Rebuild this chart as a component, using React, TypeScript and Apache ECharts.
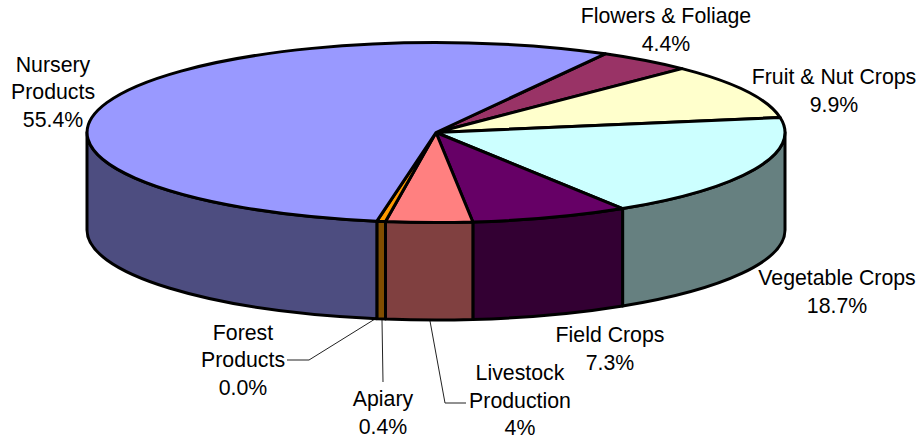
import React, { useEffect, useRef } from "react";
import * as echarts from "echarts";

const sliceNames = ["Flowers & Foliage", "Fruit & Nut Crops", "Vegetable Crops", "Field Crops", "Livestock Production", "Apiary", "Forest Products", "Nursery Products"];
const sliceValues = [4.4, 9.9, 18.7, 7.3, 4, 0.4, 0.0, 55.4];
const valueLabels = ["4.4%", "9.9%", "18.7%", "7.3%", "4%", "0.4%", "0.0%", "55.4%"];
const labelLines = [
  ["Flowers & Foliage"],
  ["Fruit & Nut Crops"],
  ["Vegetable Crops"],
  ["Field Crops"],
  ["Livestock", "Production"],
  ["Apiary"],
  ["Forest", "Products"],
  ["Nursery", "Products"],
];

const topColors = ["#993366", "#FFFFCC", "#CCFFFF", "#660066", "#FF8080", "#FF9900", "#FF9900", "#9999FF"];
const sideColors = ["#4D1A33", "#808066", "#668080", "#330033", "#804040", "#804D00", "#804D00", "#4D4D80"];

const labelCenters: [number, number][] = [
  [666, 30], [834, 91], [837, 292], [610, 349], [520, 400.8], [383, 413], [243, 360], [53, 92],
];
const leaders: [number, number][][] = [
  [[375, 319], [309, 360], [287, 360]],
  [[382, 320], [383, 382]],
  [[430, 321], [445, 403], [466, 403]],
];

const CX = 436, CY = 132.5, RX = 349, RY = 90, DEPTH = 97.5, START = -61;
const LINE_PITCH = 27.5;

const total = sliceValues.reduce((a, b) => a + b, 0);
const spans: [number, number][] = [];
{
  let cur = START;
  for (const v of sliceValues) {
    const next = cur + (v / total) * 360;
    spans.push([cur, next]);
    cur = next;
  }
}
const rad = (d: number) => (d * Math.PI) / 180;
const pt = (t: number, dy = 0) => `${(CX + RX * Math.cos(rad(t))).toFixed(2)} ${(CY + dy + RY * Math.sin(rad(t))).toFixed(2)}`;

function topPath(a: number, b: number) {
  const large = b - a > 180 ? 1 : 0;
  return `M${CX} ${CY}L${pt(a)}A${RX} ${RY} 0 ${large} 1 ${pt(b)}Z`;
}
function wallPath(a0: number, b0: number) {
  const a = Math.max(a0, 0), b = Math.min(b0, 180);
  if (b <= a) return "";
  return `M${pt(a)}A${RX} ${RY} 0 0 1 ${pt(b)}L${pt(b, DEPTH)}A${RX} ${RY} 0 0 0 ${pt(a, DEPTH)}Z`;
}

export default function App() {
  const ref = useRef<HTMLDivElement>(null);
  useEffect(() => {
    const chart = echarts.init(ref.current!, undefined, { renderer: "svg" });
    const font = '21.3px "Liberation Sans", Arial, sans-serif';
    const line = { stroke: "#000", lineWidth: 3, lineJoin: "round" };
    chart.setOption({
      animation: false,
      backgroundColor: "#fff",
      series: [
        {
          type: "custom",
          name: "sides",
          coordinateSystem: "none",
          silent: true,
          data: sliceValues.map((value, i) => ({ name: sliceNames[i], value })),
          renderItem: (params: any) => {
            const [a, b] = spans[params.dataIndex];
            const d = wallPath(a, b);
            if (!d) return { type: "group", children: [] };
            return { type: "path", shape: { pathData: d }, style: { fill: sideColors[params.dataIndex], ...line } };
          },
        },
        {
          type: "custom",
          name: "tops",
          coordinateSystem: "none",
          silent: true,
          data: sliceValues.map((value, i) => ({ name: sliceNames[i], value })),
          renderItem: (params: any) => {
            const [a, b] = spans[params.dataIndex];
            return { type: "path", shape: { pathData: topPath(a, b) }, style: { fill: topColors[params.dataIndex], ...line } };
          },
        },
      ],
      graphic: [
        ...leaders.map((points) => ({
          type: "polyline",
          shape: { points },
          style: { stroke: "#222", lineWidth: 1, fill: "none" },
        })),
        ...labelLines.flatMap((lines, i) => {
          const rows = [...lines, valueLabels[i]];
          return rows.map((text, r) => ({
            type: "text",
            x: labelCenters[i][0],
            y: labelCenters[i][1] + (r - (rows.length - 1) / 2) * LINE_PITCH,
            style: { text, font, fill: "#000", align: "center", verticalAlign: "middle" },
          }));
        }),
      ],
    });
    return () => chart.dispose();
  }, []);
  return <div ref={ref} style={{ position: "absolute", left: 0, top: 0, width: 922, height: 439 }} />;
}
